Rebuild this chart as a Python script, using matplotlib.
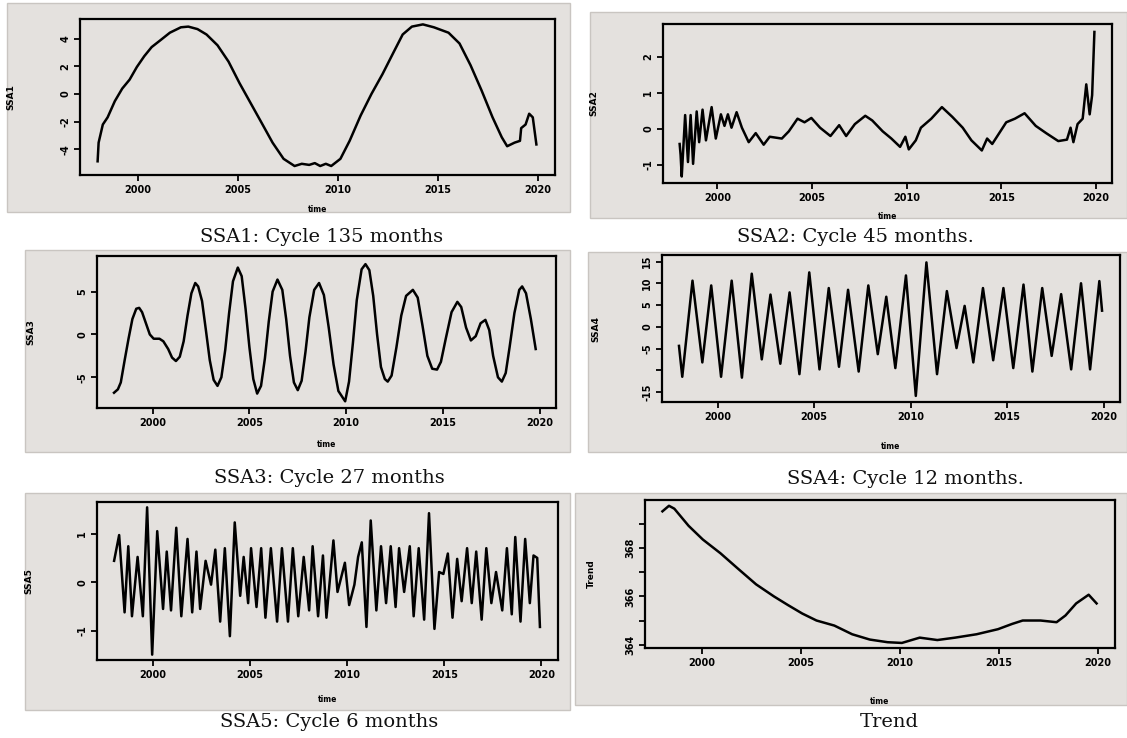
import matplotlib
matplotlib.use("Agg")
import matplotlib.pyplot as plt
from matplotlib.patches import Rectangle

# ---------------- data ----------------
ssa1_t = [1998.0, 1998.05, 1998.26, 1998.5, 1998.86, 1999.23, 1999.6, 1999.96, 2000.33, 2000.7,
          2001.15, 2001.61, 2002.16, 2002.53, 2002.99, 2003.44, 2003.99, 2004.54, 2005.09, 2005.64,
          2006.19, 2006.74, 2007.29, 2007.84, 2008.2, 2008.57, 2008.85, 2009.12, 2009.4, 2009.67,
          2010.13, 2010.59, 2011.14, 2011.68, 2012.23, 2012.78, 2013.24, 2013.7, 2014.25, 2014.8,
          2015.53, 2016.08, 2016.63, 2017.18, 2017.73, 2018.19, 2018.46, 2018.83, 2019.1, 2019.16,
          2019.38, 2019.56, 2019.74, 2019.92]
ssa1_v = [-4.87, -3.52, -2.21, -1.69, -0.52, 0.39, 1.04, 1.95, 2.73, 3.39,
          3.9, 4.43, 4.82, 4.87, 4.69, 4.3, 3.52, 2.34, 0.78, -0.65,
          -2.08, -3.52, -4.69, -5.21, -5.05, -5.13, -5.0, -5.21, -5.05, -5.21,
          -4.69, -3.39, -1.56, 0.0, 1.43, 3.0, 4.3, 4.87, 5.03, 4.82,
          4.43, 3.65, 2.08, 0.26, -1.69, -3.13, -3.78, -3.52, -3.39, -2.47,
          -2.21, -1.43, -1.69, -3.65]

ssa2_t = [1998.0, 1998.05, 1998.11, 1998.29, 1998.44, 1998.58, 1998.71, 1998.9, 1999.03, 1999.21,
          1999.39, 1999.69, 1999.91, 2000.18, 2000.37, 2000.55, 2000.74, 2001.01, 2001.29, 2001.65,
          2002.02, 2002.44, 2002.76, 2003.4, 2003.77, 2004.23, 2004.6, 2004.96, 2005.42, 2005.97,
          2006.43, 2006.8, 2007.26, 2007.81, 2008.18, 2008.73, 2009.19, 2009.65, 2009.93, 2010.11,
          2010.48, 2010.75, 2011.3, 2011.86, 2012.41, 2012.96, 2013.42, 2013.97, 2014.25, 2014.52,
          2014.89, 2015.26, 2015.72, 2016.23, 2016.82, 2017.37, 2018.01, 2018.47, 2018.66, 2018.81,
          2019.03, 2019.3, 2019.49, 2019.67, 2019.8, 2019.92]
ssa2_v = [-0.42, -0.72, -1.32, 0.38, -0.92, 0.38, -0.97, 0.48, -0.37, 0.53,
          -0.32, 0.6, -0.27, 0.4, 0.08, 0.4, 0.03, 0.46, 0.03, -0.37,
          -0.12, -0.44, -0.22, -0.27, -0.07, 0.28, 0.18, 0.3, 0.03, -0.2,
          0.1, -0.2, 0.13, 0.36, 0.23, -0.07, -0.27, -0.5, -0.22, -0.57,
          -0.32, 0.03, 0.28, 0.6, 0.33, 0.03, -0.32, -0.6, -0.27, -0.42,
          -0.12, 0.18, 0.28, 0.43, 0.08, -0.12, -0.34, -0.3, 0.03, -0.37,
          0.13, 0.28, 1.23, 0.4, 0.93, 2.68]

ssa3_t = [1998.0, 1998.2, 1998.35, 1998.55, 1998.75, 1998.95, 1999.15, 1999.3, 1999.45, 1999.65,
          1999.85, 2000.05, 2000.35, 2000.55, 2000.8, 2001.0, 2001.2, 2001.4, 2001.6, 2001.8,
          2002.0, 2002.2, 2002.35, 2002.55, 2002.75, 2002.95, 2003.15, 2003.35, 2003.55, 2003.75,
          2003.95, 2004.15, 2004.4, 2004.6, 2004.8, 2005.0, 2005.2, 2005.4, 2005.6, 2005.8,
          2006.0, 2006.2, 2006.45, 2006.7, 2006.9, 2007.1, 2007.3, 2007.5, 2007.7, 2007.9,
          2008.1, 2008.35, 2008.6, 2008.85, 2009.1, 2009.35, 2009.6, 2009.95, 2010.15, 2010.35,
          2010.55, 2010.8, 2011.0, 2011.2, 2011.4, 2011.6, 2011.8, 2012.0, 2012.15, 2012.35,
          2012.6, 2012.85, 2013.1, 2013.45, 2013.7, 2013.95, 2014.2, 2014.45, 2014.7, 2014.9,
          2015.15, 2015.45, 2015.75, 2015.95, 2016.2, 2016.45, 2016.7, 2016.95, 2017.2, 2017.4,
          2017.6, 2017.85, 2018.05, 2018.25, 2018.45, 2018.7, 2018.95, 2019.1, 2019.3, 2019.55,
          2019.8]
ssa3_v = [-6.8, -6.4, -5.6, -3.0, -0.5, 1.8, 3.0, 3.1, 2.6, 1.3,
          0.0, -0.5, -0.5, -0.8, -1.7, -2.7, -3.1, -2.6, -0.8, 2.2,
          4.8, 6.0, 5.6, 3.9, 0.5, -3.0, -5.3, -6.0, -5.0, -1.8,
          2.5, 6.2, 7.8, 6.8, 3.0, -1.5, -5.2, -6.9, -6.0, -2.8,
          1.5, 5.0, 6.4, 5.2, 1.8, -2.5, -5.6, -6.5, -5.4, -2.0,
          2.0, 5.2, 6.0, 4.6, 0.8, -3.5, -6.6, -7.8, -5.5, -1.0,
          4.0, 7.6, 8.2, 7.5, 4.5, 0.0, -3.8, -5.2, -5.5, -4.8,
          -1.5, 2.2, 4.5, 5.2, 4.3, 1.0, -2.5, -4.0, -4.1, -3.2,
          -0.5, 2.6, 3.8, 3.2, 0.8, -0.7, -0.2, 1.3, 1.7, 0.5,
          -2.5, -5.0, -5.5, -4.5, -1.5, 2.5, 5.2, 5.6, 4.8, 1.8,
          -1.7]

ssa4_t = [1998.0, 1998.17, 1998.7, 1999.21, 1999.67, 2000.18, 2000.73, 2001.26, 2001.77, 2002.29,
          2002.74, 2003.25, 2003.73, 2004.24, 2004.75, 2005.28, 2005.76, 2006.29, 2006.76, 2007.31,
          2007.81, 2008.3, 2008.74, 2009.21, 2009.76, 2010.27, 2010.82, 2011.37, 2011.88, 2012.38,
          2012.8, 2013.25, 2013.75, 2014.28, 2014.81, 2015.32, 2015.85, 2016.31, 2016.82, 2017.31,
          2017.8, 2018.32, 2018.83, 2019.3, 2019.78, 2019.92]
ssa4_v = [-4.4, -11.5, 10.6, -8.2, 9.5, -11.5, 10.6, -11.7, 12.2, -7.5,
          7.4, -8.5, 7.9, -10.9, 12.5, -9.8, 8.9, -9.2, 8.5, -10.3,
          9.5, -6.3, 6.9, -9.5, 11.8, -15.9, 14.8, -10.9, 8.2, -4.9,
          4.8, -8.2, 8.9, -7.7, 8.9, -9.5, 9.7, -10.3, 8.9, -6.7,
          7.5, -9.8, 10.0, -9.8, 10.5, 3.7]

ssa5_t = [1998.0, 1998.26, 1998.54, 1998.73, 1998.92, 1999.21, 1999.48, 1999.7, 1999.96, 2000.22,
          2000.52, 2000.71, 2000.93, 2001.2, 2001.46, 2001.78, 2002.02, 2002.24, 2002.43, 2002.71,
          2002.99, 2003.21, 2003.46, 2003.7, 2003.96, 2004.21, 2004.49, 2004.67, 2004.9, 2005.05,
          2005.33, 2005.57, 2005.79, 2006.07, 2006.39, 2006.64, 2006.95, 2007.2, 2007.48, 2007.76,
          2008.04, 2008.22, 2008.5, 2008.75, 2008.93, 2009.29, 2009.5, 2009.88, 2010.1, 2010.37,
          2010.56, 2010.75, 2010.99, 2011.21, 2011.5, 2011.74, 2012.0, 2012.24, 2012.49, 2012.67,
          2012.93, 2013.22, 2013.42, 2013.68, 2013.96, 2014.21, 2014.49, 2014.73, 2014.95, 2015.18,
          2015.42, 2015.66, 2015.89, 2016.17, 2016.41, 2016.64, 2016.92, 2017.16, 2017.42, 2017.66,
          2017.98, 2018.22, 2018.47, 2018.65, 2018.92, 2019.16, 2019.4, 2019.59, 2019.78, 2019.92]
ssa5_v = [0.44, 0.97, -0.62, 0.74, -0.70, 0.52, -0.70, 1.54, -1.49, 1.05,
          -0.55, 0.63, -0.58, 1.12, -0.70, 0.89, -0.62, 0.63, -0.55, 0.44,
          -0.05, 0.67, -0.81, 0.70, -1.11, 1.23, -0.28, 0.52, -0.43, 0.70,
          -0.51, 0.70, -0.73, 0.70, -0.81, 0.70, -0.81, 0.70, -0.70, 0.52,
          -0.58, 0.74, -0.70, 0.55, -0.73, 0.86, -0.2, 0.4, -0.47, -0.05,
          0.52, 0.82, -0.92, 1.27, -0.58, 0.74, -0.43, 0.74, -0.51, 0.70,
          -0.2, 0.74, -0.70, 0.70, -0.77, 1.42, -0.96, 0.21, 0.17, 0.59,
          -0.73, 0.48, -0.39, 0.70, -0.43, 0.63, -0.77, 0.70, -0.43, 0.21,
          -0.58, 0.70, -0.66, 0.93, -0.81, 0.89, -0.43, 0.55, 0.5, -0.92]

trend_t = [1998.0, 1998.33, 1998.6, 1999.32, 2000.04, 2000.93, 2001.83, 2002.73, 2003.63, 2004.34,
           2005.06, 2005.78, 2006.68, 2007.58, 2008.47, 2009.37, 2010.09, 2010.99, 2011.88, 2012.78,
           2013.86, 2014.94, 2015.66, 2016.19, 2017.09, 2017.9, 2018.35, 2018.89, 2019.52, 2019.92]
trend_v = [369.53, 369.76, 369.64, 368.93, 368.36, 367.79, 367.14, 366.5, 366.0, 365.64,
           365.29, 365.0, 364.79, 364.43, 364.21, 364.1, 364.07, 364.29, 364.19, 364.29,
           364.43, 364.64, 364.86, 365.0, 365.0, 364.93, 365.21, 365.71, 366.07, 365.71]

year_ticks = [2000, 2005, 2010, 2015, 2020]
year_labels = ["2000", "2005", "2010", "2015", "2020"]

captions = ["SSA1: Cycle 135 months", "SSA2: Cycle 45 months.", "SSA3: Cycle 27 months",
            "SSA4: Cycle 12 months.", "SSA5: Cycle 6 months", "Trend"]
ylabels = ["SSA1", "SSA2", "SSA3", "SSA4", "SSA5", "Trend"]

# ---------------- layout ----------------
W, H = 1127, 738
fig = plt.figure(figsize=(W / 100, H / 100), dpi=100)
fig.patch.set_facecolor("white")
BG = "#e4e1de"


def frac(l, t, r, b):
    return [l / W, 1 - b / H, (r - l) / W, (b - t) / H]


panels = [
    dict(bg=(7, 3, 570, 212), ax=(80, 19, 555, 175), cap=(322, 237), ylx=15, xly=205,
         t=ssa1_t, v=ssa1_v, ylim=(-5.86, 5.42), yt=[-4, -2, 0, 2, 4], ytl=["-4", "-2", "0", "2", "4"]),
    dict(bg=(590, 12, 1127, 218), ax=(663, 24, 1112, 183), cap=(855, 237), ylx=598, xly=212,
         t=ssa2_t, v=ssa2_v, ylim=(-1.5, 2.9), yt=[-1, 0, 1, 2], ytl=["-1", "0", "1", "2"]),
    dict(bg=(25, 250, 570, 452), ax=(97, 256, 556, 408), cap=(329, 478), ylx=35, xly=440,
         t=ssa3_t, v=ssa3_v, ylim=(-8.58, 9.15), yt=[-5, 0, 5], ytl=["-5", "0", "5"]),
    dict(bg=(588, 252, 1127, 452), ax=(662, 255, 1120, 402), cap=(905, 479), ylx=600, xly=442,
         t=ssa4_t, v=ssa4_v, ylim=(-17.3, 16.5), yt=[-15, -10, -5, 0, 5, 10, 15],
         ytl=["-15", "", "-5", "0", "5", "10", "15"]),
    dict(bg=(25, 493, 570, 710), ax=(97, 502, 558, 660), cap=(329, 722), ylx=33, xly=695,
         t=ssa5_t, v=ssa5_v, ylim=(-1.6, 1.65), yt=[-1, 0, 1], ytl=["-1", "0", "1"]),
    dict(bg=(575, 493, 1127, 705), ax=(645, 500, 1115, 648), cap=(889, 722), ylx=596, xly=697,
         t=trend_t, v=trend_v, ylim=(363.86, 370.0), yt=[364, 365, 366, 367, 368, 369],
         ytl=["364", "", "366", "", "368", ""]),
]

for i, p in enumerate(panels):
    l, t, r, b = p["bg"]
    fig.add_artist(Rectangle((l / W, 1 - b / H), (r - l) / W, (b - t) / H,
                             transform=fig.transFigure, facecolor=BG,
                             edgecolor="#c9c5c1", lw=1.0, zorder=0))
    ax = fig.add_axes(frac(*p["ax"]))
    ax.set_facecolor(BG)
    ax.plot(p["t"], p["v"], color="black", lw=1.8, solid_joinstyle="round")
    ax.set_xlim(1997.12, 2020.85)
    ax.set_ylim(*p["ylim"])
    ax.set_xticks(year_ticks)
    ax.set_xticklabels(year_labels)
    ax.set_yticks(p["yt"])
    ax.set_yticklabels(p["ytl"], rotation=90, va="center")
    ax.tick_params(direction="out", length=4, width=1.3, labelsize=7, pad=3)
    for lab in ax.get_xticklabels() + ax.get_yticklabels():
        lab.set_fontweight("bold")
    for s in ax.spines.values():
        s.set_linewidth(1.6)
    al, at, ar, ab = p["ax"]
    ax.set_ylabel(ylabels[i], fontsize=6.5, fontweight="bold")
    ax.yaxis.set_label_coords((p["ylx"] - al) / (ar - al), 0.5)
    ax.set_xlabel("time", fontsize=5.5, fontweight="bold")
    ax.xaxis.set_label_coords(0.5, (ab - p["xly"]) / (ab - at))
    cx, cy = p["cap"]
    fig.text(cx / W, 1 - cy / H, captions[i], ha="center", va="center",
             family="DejaVu Serif", fontsize=14, color="#111111")

fig.savefig("out.png", dpi=100)
